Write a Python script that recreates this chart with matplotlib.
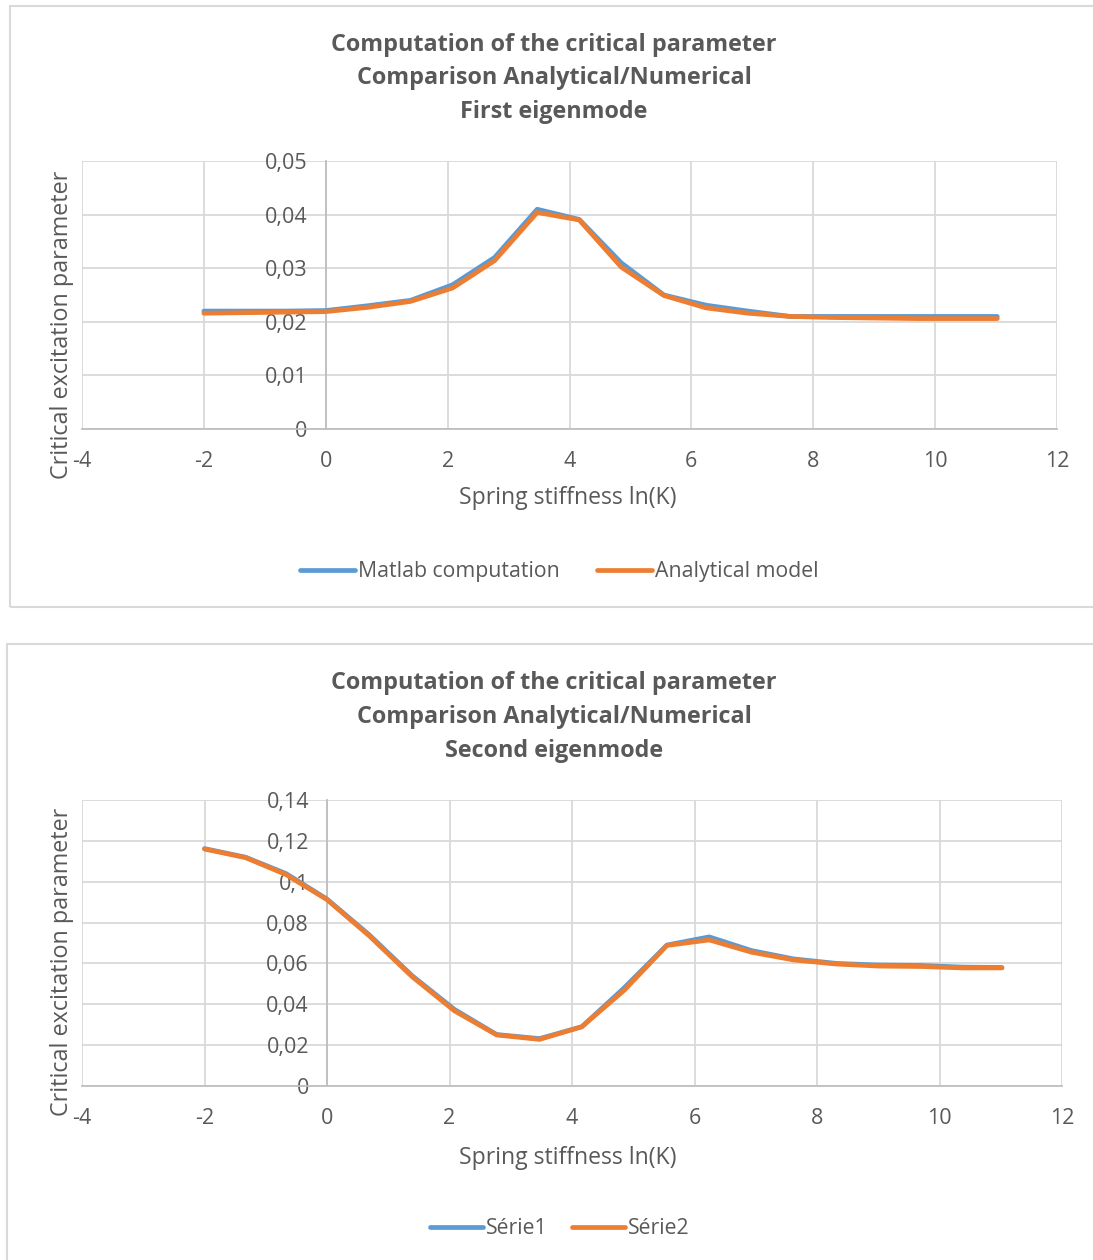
import matplotlib
matplotlib.use("Agg")
import matplotlib.pyplot as plt
from matplotlib.patches import Rectangle
from matplotlib.ticker import FuncFormatter, MultipleLocator
from matplotlib.lines import Line2D

plt.rcParams["axes.unicode_minus"] = False

# Spring stiffness on a log scale, ln(K)
ln_k = [-2.0, -1.33, -0.67, 0.0, 0.69, 1.39, 2.08, 2.77, 3.47, 4.16,
        4.85, 5.55, 6.24, 6.93, 7.62, 8.32, 9.01, 9.70, 10.38, 11.02]

# First eigenmode
mode1_matlab = [0.0220, 0.0220, 0.0220, 0.0221, 0.0230, 0.0240, 0.0269, 0.0320, 0.0410, 0.0391,
                0.0310, 0.0250, 0.0231, 0.0220, 0.0210, 0.0210, 0.0210, 0.0210, 0.0210, 0.0210]
mode1_analytical = [0.0216, 0.0217, 0.0218, 0.0219, 0.0227, 0.0238, 0.0263, 0.0314, 0.0404, 0.0390,
                    0.0302, 0.0249, 0.0226, 0.0216, 0.0210, 0.0208, 0.0207, 0.0206, 0.0206, 0.0206]

# Second eigenmode
mode2_serie1 = [0.1162, 0.1120, 0.1040, 0.0915, 0.0740, 0.0540, 0.0375, 0.0252, 0.0232, 0.0290,
                0.0480, 0.0690, 0.0730, 0.0663, 0.0622, 0.0600, 0.0592, 0.0590, 0.0582, 0.0580]
mode2_serie2 = [0.1160, 0.1118, 0.1035, 0.0912, 0.0735, 0.0535, 0.0368, 0.0250, 0.0228, 0.0290,
                0.0468, 0.0688, 0.0715, 0.0655, 0.0617, 0.0597, 0.0587, 0.0585, 0.0578, 0.0578]

titles = [
    "Computation of the critical parameter\nComparison Analytical/Numerical\nFirst eigenmode",
    "Computation of the critical parameter\nComparison Analytical/Numerical\nSecond eigenmode",
]
legend_labels = [["Matlab computation", "Analytical model"], ["Série1", "Série2"]]

BLUE = "#5B9BD5"
ORANGE = "#ED7D31"
TEXT = "#595959"
GRID = "#D9D9D9"
AXIS = "#BFBFBF"
FONT = "Open Sans"

W, H = 1093, 1260
fig = plt.figure(figsize=(W / 100, H / 100), dpi=100)
fig.patch.set_facecolor("white")


def fx(px):
    return px / W


def fy(py):
    return 1 - py / H


# chart frames
for (x0, y0, x1, y1) in [(10, 6, 1100, 607), (7, 644, 1100, 1270)]:
    fig.add_artist(Rectangle((fx(x0), fy(y1)), fx(x1 - x0), (y1 - y0) / H,
                             transform=fig.transFigure, fill=False,
                             edgecolor="#D9D9D9", linewidth=1.5))

comma = FuncFormatter(lambda v, p: "{:g}".format(round(v, 4)).replace(".", ","))

panels = [
    dict(box=(82, 161, 1057, 429), ymax=0.05, ystep=0.01,
         s1=mode1_matlab, s2=mode1_analytical,
         title_y=[45, 78, 112], xlabel_y=498, ylabel=(62, 325), legend_y=572,
         legend_x=[(300, 355), (597, 652)]),
    dict(box=(82, 800, 1062, 1086), ymax=0.14, ystep=0.02,
         s1=mode2_serie1, s2=mode2_serie2,
         title_y=[683, 717, 751], xlabel_y=1158, ylabel=(62, 962), legend_y=1229,
         legend_x=[(430, 483), (572, 625)]),
]

for i, p in enumerate(panels):
    x0, y0, x1, y1 = p["box"]
    ax = fig.add_axes([fx(x0), fy(y1), fx(x1 - x0), (y1 - y0) / H])
    ax.set_xlim(-4, 12)
    ax.set_ylim(0, p["ymax"])
    ax.xaxis.set_major_locator(MultipleLocator(2))
    ax.yaxis.set_major_locator(MultipleLocator(p["ystep"]))
    ax.yaxis.set_major_formatter(comma)
    ax.grid(True, color=GRID, linewidth=1.3)
    ax.set_axisbelow(True)
    for s in ["top", "right"]:
        ax.spines[s].set_visible(False)
    ax.spines["left"].set_position(("data", 0))
    ax.spines["left"].set_color(AXIS)
    ax.spines["bottom"].set_color(AXIS)
    ax.spines["left"].set_linewidth(1.3)
    ax.spines["bottom"].set_linewidth(1.3)
    ax.tick_params(axis="both", length=0, labelsize=15.5, labelcolor=TEXT)
    ax.tick_params(axis="x", pad=16)
    ax.tick_params(axis="y", pad=13)
    for lab in ax.get_xticklabels() + ax.get_yticklabels():
        lab.set_fontfamily(FONT)

    ax.plot(ln_k, p["s1"], color=BLUE, linewidth=3.4, solid_capstyle="round",
            solid_joinstyle="round", zorder=3)
    ax.plot(ln_k, p["s2"], color=ORANGE, linewidth=3.4, solid_capstyle="round",
            solid_joinstyle="round", zorder=4)

    # title
    for line, ty in zip(titles[i].split("\n"), p["title_y"]):
        fig.text(fx(554), fy(ty), line, ha="center", va="center", fontsize=16.8,
                 fontweight="bold", color=TEXT, family=FONT)

    fig.text(fx(568), fy(p["xlabel_y"]), "Spring stiffness ln(K)", ha="center",
             va="center", fontsize=16.6, color=TEXT, family=FONT)
    fig.text(fx(p["ylabel"][0]), fy(p["ylabel"][1]), "Critical excitation parameter",
             ha="center", va="center", rotation=90, fontsize=16.8, color=TEXT,
             family=FONT)

    # legend
    for (lx0, lx1), col, lab in zip(p["legend_x"], [BLUE, ORANGE], legend_labels[i]):
        fig.add_artist(Line2D([fx(lx0), fx(lx1)], [fy(p["legend_y"] - 2)] * 2,
                              transform=fig.transFigure, color=col, linewidth=3.4,
                              solid_capstyle="round"))
        fig.text(fx(lx1 + 3), fy(p["legend_y"]), lab, ha="left", va="center",
                 fontsize=15.3, color=TEXT, family=FONT)

fig.savefig("out.png", dpi=100, facecolor="white")
